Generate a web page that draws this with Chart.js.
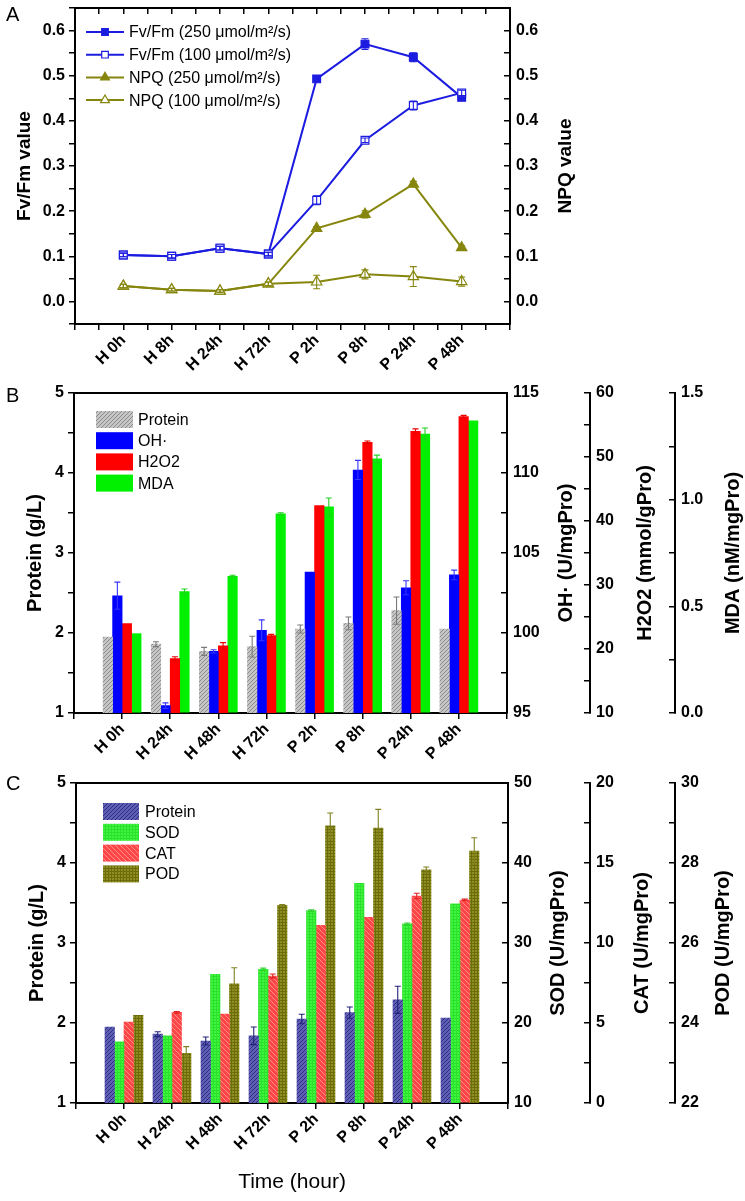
<!DOCTYPE html>
<html>
<head>
<meta charset="utf-8">
<script src="https://cdn.jsdelivr.net/npm/chart.js@4.4.1/dist/chart.umd.min.js"></script>
<style>
  body { margin: 0; background: #fff; }
  #wrap { position: relative; width: 745px; height: 1201px; background: #fff; font-family: Arial, "Liberation Sans", sans-serif; }
  canvas { position: absolute; left: 0; }
  .tag { position: absolute; left: 6px; font-size: 20px; line-height: 20px; color: #000; }
</style>
</head>
<body>
<div id="wrap">
  <canvas id="chartA" width="745" height="385" style="top:0"></canvas>
  <canvas id="chartB" width="745" height="390" style="top:385px"></canvas>
  <canvas id="chartC" width="745" height="426" style="top:775px"></canvas>
  <div class="tag" style="top:4px">A</div>
  <div class="tag" style="top:385px">B</div>
  <div class="tag" style="top:773px">C</div>
</div>
<script>
// panel A
const timesA = ['H 0h', 'H 8h', 'H 24h', 'H 72h', 'P 2h', 'P 8h', 'P 24h', 'P 48h'];
const fvfm250 = [0.103, 0.100, 0.118, 0.105, 0.493, 0.570, 0.541, 0.452];
const fvfm250Err = [0.004, 0.004, 0.004, 0.004, 0.003, 0.012, 0.010, 0.003];
const fvfm100 = [0.103, 0.100, 0.118, 0.105, 0.224, 0.357, 0.434, 0.462];
const fvfm100Err = [0.004, 0.004, 0.004, 0.004, 0.010, 0.005, 0.010, 0.006];
const npq250 = [0.034, 0.026, 0.023, 0.039, 0.162, 0.193, 0.260, 0.119];
const npq250Err = [0.004, 0.003, 0.003, 0.004, 0.004, 0.008, 0.006, 0.004];
const npq100 = [0.034, 0.026, 0.023, 0.039, 0.043, 0.060, 0.055, 0.044];
const npq100Err = [0.004, 0.003, 0.003, 0.004, 0.015, 0.010, 0.022, 0.010];

// panel B
const timesB = ['H 0h', 'H 24h', 'H 48h', 'H 72h', 'P 2h', 'P 8h', 'P 24h', 'P 48h'];
const proteinB = [1.95, 1.86, 1.77, 1.83, 2.05, 2.12, 2.28, 2.05];
const proteinBErr = [0, 0.03, 0.05, 0.13, 0.05, 0.08, 0.17, 0];
const ohB = [102.33, 95.46, 98.85, 100.17, 103.8, 110.19, 102.83, 103.63];
const ohBErr = [0.85, 0.17, 0.1, 0.65, 0, 0.6, 0.44, 0.3];
const h2o2B = [23.96, 18.49, 20.5, 22.08, 42.4, 52.3, 54.0, 56.3];
const h2o2BErr = [0, 0.3, 0.5, 0.2, 0, 0.2, 0.4, 0.2];
const mdaB = [0.372, 0.569, 0.641, 0.934, 0.966, 1.192, 1.308, 1.370];
const mdaBErr = [0, 0.012, 0.005, 0.005, 0.042, 0.017, 0.028, 0];

// panel C
const timesC = ['H 0h', 'H 24h', 'H 48h', 'H 72h', 'P 2h', 'P 8h', 'P 24h', 'P 48h'];
const proteinC = [1.95, 1.86, 1.775, 1.84, 2.05, 2.13, 2.29, 2.06];
const proteinCErr = [0, 0.03, 0.05, 0.11, 0.06, 0.07, 0.17, 0];
const sodC = [17.66, 18.4, 26.09, 26.71, 34.04, 37.46, 32.4, 34.9];
const sodCErr = [0, 0, 0, 0.15, 0.1, 0, 0.1, 0];
const catC = [5.06, 5.67, 5.56, 7.94, 11.1, 11.6, 12.94, 12.69];
const catCErr = [0, 0.05, 0, 0.12, 0, 0, 0.17, 0.05];
const podC = [24.19, 23.24, 24.98, 26.94, 28.93, 28.87, 27.83, 28.3];
const podCErr = [0, 0.17, 0.4, 0.02, 0.32, 0.47, 0.07, 0.33];

const FONT = 'Arial, "Liberation Sans", sans-serif';
Chart.defaults.font.family = FONT;
Chart.defaults.color = '#000';
Chart.defaults.animation = false;

const tickFont = { family: FONT, size: 16, weight: 'bold', lineHeight: 1 };

function pts(vals) {
  return vals.map((v, i) => ({ x: i, y: v }));
}

function fmtStep(step, lo, hi, dec) {
  return v => {
    const k = v / step;
    if (Math.abs(k - Math.round(k)) > 1e-6 || v < lo - 1e-9 || v > hi + 1e-9) return '';
    return Math.abs(v) < 1e-9 ? (0).toFixed(dec) : v.toFixed(dec);
  };
}

function catLabel(names) {
  return v => {
    const i = Math.round(v);
    if (Math.abs(v - i) > 1e-6 || i < 0 || i >= names.length) return '';
    return names[i];
  };
}

function makePattern(bg, fg, kind, size) {
  const c = document.createElement('canvas');
  c.width = c.height = size;
  const g = c.getContext('2d');
  g.fillStyle = bg;
  g.fillRect(0, 0, size, size);
  g.strokeStyle = fg;
  g.lineWidth = 1;
  g.beginPath();
  if (kind === 'slash') {
    g.moveTo(-1, size + 1); g.lineTo(size + 1, -1);
    g.moveTo(-1, 1); g.lineTo(1, -1);
    g.moveTo(size - 1, size + 1); g.lineTo(size + 1, size - 1);
  } else if (kind === 'back') {
    g.moveTo(-1, -1); g.lineTo(size + 1, size + 1);
    g.moveTo(size - 1, -1); g.lineTo(size + 1, 1);
    g.moveTo(-1, size - 1); g.lineTo(1, size + 1);
  } else {
    g.moveTo(0, 0.5); g.lineTo(size, 0.5);
    g.moveTo(0.5, 0); g.lineTo(0.5, size);
  }
  g.stroke();
  return g.createPattern(c, 'repeat');
}

// fixed box sizes so the plot areas sit where the figure has them
function pinWidth(width) {
  return s => { s.width = width; s.paddingTop = 0; s.paddingBottom = 0; };
}
function pinHeight(height) {
  return s => { s.height = height; s.paddingLeft = 0; s.paddingRight = 0; };
}

function yAxis(pos, min, max, step, fmt, width, weight) {
  const inward = pos === 'right';
  return {
    type: 'linear', position: pos, min, max, weight: weight || 0,
    afterFit: pinWidth(width),
    border: { display: true, color: '#000', width: 2 },
    grid: { drawOnChartArea: false, drawTicks: true, tickLength: inward ? -6 : 6, color: '#000', lineWidth: 1.5 },
    ticks: { stepSize: step, autoSkip: false, padding: inward ? 12 : 4, font: tickFont, color: '#000', callback: fmt }
  };
}

function xAxis(names, height, step, title) {
  const ax = {
    type: 'linear', position: 'bottom', min: -1, max: 8, offset: false,
    afterFit: pinHeight(height),
    border: { display: true, color: '#000', width: 2 },
    grid: { offset: false, drawOnChartArea: false, drawTicks: true, tickLength: 6, color: '#000', lineWidth: 1.5 },
    ticks: { stepSize: step, autoSkip: false, minRotation: 45, maxRotation: 45, padding: 2, font: tickFont, color: '#000', callback: catLabel(names) }
  };
  if (title) {
    ax.title = { display: true, text: title, color: '#000', font: { family: FONT, size: 21 }, padding: { top: 0, bottom: 6 } };
  }
  return ax;
}

function topAxis(withTicks) {
  return {
    type: 'linear', position: 'top', min: -1, max: 8, offset: false,
    afterFit: pinHeight(8),
    border: { display: true, color: '#000', width: 2 },
    grid: { offset: false, drawOnChartArea: false, drawTicks: withTicks, tickLength: -6, color: '#000', lineWidth: 1.5 },
    ticks: { display: false, stepSize: 0.5 }
  };
}

// error bars drawn through each dataset's own y scale
const errorBars = {
  id: 'errorBars',
  afterDatasetsDraw(chart) {
    const ctx = chart.ctx;
    chart.data.datasets.forEach((ds, di) => {
      if (!ds.errors) return;
      const meta = chart.getDatasetMeta(di);
      const ys = chart.scales[meta.yAxisID];
      const cap = chart.config.type === 'line' ? 3.5 : 3;
      ctx.save();
      ctx.strokeStyle = ds.errorColor;
      ctx.lineWidth = 1.1;
      meta.data.forEach((el, i) => {
        const e = ds.errors[i];
        if (!e) return;
        const v = ds.data[i].y;
        const yt = ys.getPixelForValue(v + e);
        const yb = ys.getPixelForValue(v - e);
        ctx.beginPath();
        ctx.moveTo(el.x, yt); ctx.lineTo(el.x, yb);
        ctx.moveTo(el.x - cap, yt); ctx.lineTo(el.x + cap, yt);
        ctx.moveTo(el.x - cap, yb); ctx.lineTo(el.x + cap, yb);
        ctx.stroke();
      });
      ctx.restore();
    });
  }
};

function drawMarker(ctx, style, x, y, r, stroke, fill) {
  ctx.beginPath();
  if (style === 'rect') {
    const s = r * Math.SQRT1_2;
    ctx.rect(x - s, y - s, 2 * s, 2 * s);
  } else {
    ctx.moveTo(x, y - r);
    ctx.lineTo(x + 0.866 * r, y + 0.5 * r);
    ctx.lineTo(x - 0.866 * r, y + 0.5 * r);
    ctx.closePath();
  }
  ctx.fillStyle = fill;
  ctx.fill();
  ctx.strokeStyle = stroke;
  ctx.lineWidth = 1.2;
  ctx.stroke();
}

// legend placed inside the plot, like the original figure
const boxLegend = {
  id: 'boxLegend',
  afterDraw(chart, args, o) {
    if (!o || !o.x) return;
    const ctx = chart.ctx;
    ctx.save();
    chart.data.datasets.forEach((ds, i) => {
      const y = o.y + i * o.row;
      if (o.kind === 'line') {
        ctx.strokeStyle = ds.borderColor;
        ctx.lineWidth = 2;
        ctx.beginPath();
        ctx.moveTo(o.x, y); ctx.lineTo(o.x + o.w, y);
        ctx.stroke();
        drawMarker(ctx, ds.pointStyle, o.x + o.w / 2, y, ds.pointRadius * 0.85, ds.borderColor, ds.pointBackgroundColor);
      } else {
        ctx.fillStyle = ds.backgroundColor;
        ctx.fillRect(o.x, y - o.h / 2, o.w, o.h);
      }
      ctx.fillStyle = '#000';
      ctx.font = o.font;
      ctx.textBaseline = 'middle';
      ctx.textAlign = 'left';
      ctx.fillText(ds.label, o.textX, y + 1);
    });
    ctx.restore();
  }
};

// axis titles that read bottom to top on every side
const sideTitles = {
  id: 'sideTitles',
  afterDraw(chart, args, o) {
    if (!o || !o.items) return;
    const ctx = chart.ctx;
    const a = chart.chartArea;
    o.items.forEach(t => {
      ctx.save();
      ctx.translate(t.x, (a.top + a.bottom) / 2);
      ctx.rotate(-Math.PI / 2);
      ctx.font = 'bold ' + t.size + 'px ' + FONT;
      ctx.fillStyle = '#000';
      ctx.textAlign = 'center';
      ctx.textBaseline = 'middle';
      ctx.fillText(t.text, 0, 0);
      ctx.restore();
    });
  }
};

const blueA = '#1c1ce0';
const oliveA = '#86860e';

new Chart(document.getElementById('chartA'), {
  type: 'line',
  data: {
    datasets: [
      { label: 'Fv/Fm (250 \u03bcmol/m\u00b2/s)', data: pts(fvfm250), yAxisID: 'y', order: 1, borderColor: blueA, borderWidth: 2,
        pointStyle: 'rect', pointRadius: 5.5, pointBackgroundColor: blueA, pointBorderColor: blueA, pointBorderWidth: 1.2,
        errors: fvfm250Err, errorColor: blueA },
      { label: 'Fv/Fm (100 \u03bcmol/m\u00b2/s)', data: pts(fvfm100), yAxisID: 'y', order: 0, borderColor: blueA, borderWidth: 2,
        pointStyle: 'rect', pointRadius: 5.5, pointBackgroundColor: '#fff', pointBorderColor: blueA, pointBorderWidth: 1.2,
        errors: fvfm100Err, errorColor: blueA },
      { label: 'NPQ (250 \u03bcmol/m\u00b2/s)', data: pts(npq250), yAxisID: 'y1', order: 3, borderColor: oliveA, borderWidth: 2,
        pointStyle: 'triangle', pointRadius: 6, pointBackgroundColor: oliveA, pointBorderColor: oliveA, pointBorderWidth: 1.2,
        errors: npq250Err, errorColor: oliveA },
      { label: 'NPQ (100 \u03bcmol/m\u00b2/s)', data: pts(npq100), yAxisID: 'y1', order: 2, borderColor: oliveA, borderWidth: 2,
        pointStyle: 'triangle', pointRadius: 6, pointBackgroundColor: '#fff', pointBorderColor: oliveA, pointBorderWidth: 1.2,
        errors: npq100Err, errorColor: oliveA }
    ]
  },
  options: {
    responsive: false,
    devicePixelRatio: 1,
    layout: { padding: 0, autoPadding: false },
    events: [],
    plugins: {
      legend: { display: false },
      tooltip: { enabled: false },
      boxLegend: { kind: 'line', x: 86, y: 32, row: 22.7, w: 38, textX: 129, font: '16px ' + FONT },
      sideTitles: { items: [{ x: 25, text: 'Fv/Fm value', size: 19 }, { x: 566, text: 'NPQ value', size: 19 }] }
    },
    scales: {
      x: xAxis(timesA, 61, 0.5),
      xt: topAxis(true),
      y: yAxis('left', -0.05, 0.65, 0.05, fmtStep(0.1, 0, 0.6, 1), 75),
      y1: yAxis('right', -0.05, 0.65, 0.05, fmtStep(0.1, 0, 0.6, 1), 235)
    }
  },
  plugins: [errorBars, boxLegend, sideTitles]
});

const greyHatch = makePattern('#c6c6c6', '#8c8c8c', 'slash', 4);

new Chart(document.getElementById('chartB'), {
  type: 'bar',
  data: {
    datasets: [
      { label: 'Protein', data: pts(proteinB), yAxisID: 'y', backgroundColor: greyHatch, errors: proteinBErr, errorColor: '#7a7a7a' },
      { label: 'OH\u00b7', data: pts(ohB), yAxisID: 'y1', backgroundColor: '#0000ff', errors: ohBErr, errorColor: '#3535ff' },
      { label: 'H2O2', data: pts(h2o2B), yAxisID: 'y2', backgroundColor: '#ff0000', errors: h2o2BErr, errorColor: '#e80000' },
      { label: 'MDA', data: pts(mdaB), yAxisID: 'y3', backgroundColor: '#00f000', errors: mdaBErr, errorColor: '#20d020' }
    ]
  },
  options: {
    responsive: false,
    devicePixelRatio: 1,
    layout: { padding: 0, autoPadding: false },
    events: [],
    datasets: { bar: { barThickness: 9.5, borderWidth: 0 } },
    plugins: {
      legend: { display: false },
      tooltip: { enabled: false },
      boxLegend: { kind: 'box', x: 96, y: 34.5, row: 21.2, w: 37, h: 17, textX: 138, font: '16px ' + FONT },
      sideTitles: { items: [
        { x: 35, text: 'Protein (g/L)', size: 20 },
        { x: 566, text: 'OH\u00b7 (U/mgPro)', size: 20 },
        { x: 645, text: 'H2O2 (mmol/gPro)', size: 20 },
        { x: 733, text: 'MDA (nM/mgPro)', size: 20 }
      ] }
    },
    scales: {
      x: xAxis(timesB, 62, 1),
      xt: topAxis(false),
      y: yAxis('left', 1, 5, 0.5, fmtStep(1, 1, 5, 0), 74),
      y1: yAxis('right', 95, 115, 2.5, fmtStep(5, 95, 115, 0), 83, 1),
      y2: yAxis('right', 10, 60, 5, fmtStep(10, 10, 60, 0), 85, 2),
      y3: yAxis('right', 0, 1.5, 0.25, fmtStep(0.5, 0, 1.5, 1), 70, 3)
    }
  },
  plugins: [errorBars, boxLegend, sideTitles]
});

const navyHatch = makePattern('#5e5eb4', '#2c2c80', 'slash', 4);
const sodGrid = makePattern('#3cf53c', '#2ee02e', 'grid', 3);
const catHatch = makePattern('#ff4646', '#ff8c8c', 'back', 5);
const podGrid = makePattern('#8e8e22', '#6c6c0a', 'grid', 3);

new Chart(document.getElementById('chartC'), {
  type: 'bar',
  data: {
    datasets: [
      { label: 'Protein', data: pts(proteinC), yAxisID: 'y', backgroundColor: navyHatch, errors: proteinCErr, errorColor: '#22227a' },
      { label: 'SOD', data: pts(sodC), yAxisID: 'y1', backgroundColor: sodGrid, errors: sodCErr, errorColor: '#30d030' },
      { label: 'CAT', data: pts(catC), yAxisID: 'y2', backgroundColor: catHatch, errors: catCErr, errorColor: '#e02020' },
      { label: 'POD', data: pts(podC), yAxisID: 'y3', backgroundColor: podGrid, errors: podCErr, errorColor: '#808020' }
    ]
  },
  options: {
    responsive: false,
    devicePixelRatio: 1,
    layout: { padding: 0, autoPadding: false },
    events: [],
    datasets: { bar: { barThickness: 9.5, borderWidth: 0 } },
    plugins: {
      legend: { display: false },
      tooltip: { enabled: false },
      boxLegend: { kind: 'box', x: 103, y: 36.5, row: 20.8, w: 36, h: 17, textX: 145, font: '16px ' + FONT },
      sideTitles: { items: [
        { x: 37, text: 'Protein (g/L)', size: 20 },
        { x: 558, text: 'SOD (U/mgPro)', size: 20 },
        { x: 642, text: 'CAT (U/mgPro)', size: 20 },
        { x: 723, text: 'POD (U/mgPro)', size: 20 }
      ] }
    },
    scales: {
      x: xAxis(timesC, 98, 1, 'Time (hour)'),
      xt: topAxis(false),
      y: yAxis('left', 1, 5, 0.5, fmtStep(1, 1, 5, 0), 76),
      y1: yAxis('right', 10, 50, 5, fmtStep(10, 10, 50, 0), 82, 1),
      y2: yAxis('right', 0, 20, 2.5, fmtStep(5, 0, 20, 0), 85, 2),
      y3: yAxis('right', 22, 30, 1, fmtStep(2, 22, 30, 0), 70, 3)
    }
  },
  plugins: [errorBars, boxLegend, sideTitles]
});
</script>
</body>
</html>
